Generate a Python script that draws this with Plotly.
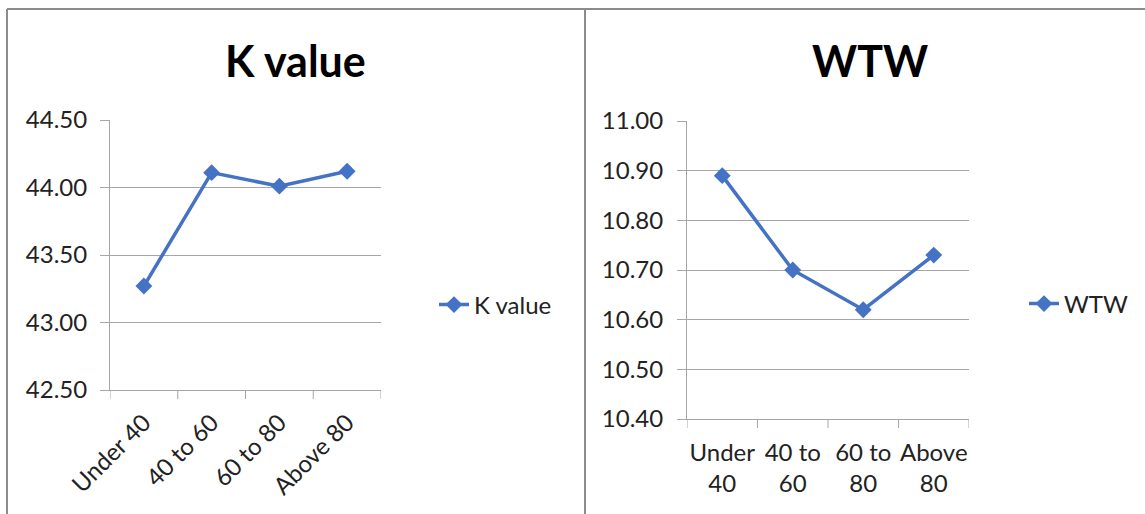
import plotly.graph_objects as go
from plotly.subplots import make_subplots

# Age groups and the two measured series
categories_k = ["Under 40", "40 to 60", "60 to 80", "Above 80"]
categories_wtw = ["Under<br>40", "40 to<br>60", "60 to<br>80", "Above<br>80"]
k_values = [43.27, 44.11, 44.01, 44.12]
wtw_values = [10.89, 10.70, 10.62, 10.73]

k_ticks = [42.5, 43.0, 43.5, 44.0, 44.5]
wtw_ticks = [10.4, 10.5, 10.6, 10.7, 10.8, 10.9, 11.0]

W, H = 1145, 514
FONT = "Lato"
BLUE = "#4472C4"
GRID = "#a6a6a6"


def px(x):
    return x / W


def py(y):
    return 1 - y / H


fig = make_subplots(rows=1, cols=2)

fig.add_trace(go.Scatter(
    x=list(range(4)), y=k_values, name="K value", mode="lines+markers",
    line=dict(color=BLUE, width=3.5),
    marker=dict(symbol="diamond", size=13, color=BLUE),
    legend="legend",
), row=1, col=1)

fig.add_trace(go.Scatter(
    x=list(range(4)), y=wtw_values, name="WTW", mode="lines+markers",
    line=dict(color=BLUE, width=3.5),
    marker=dict(symbol="diamond", size=13, color=BLUE),
    legend="legend2",
), row=1, col=2)

axis_common = dict(
    showline=True, linecolor=GRID, linewidth=1,
    tickfont=dict(family=FONT, size=24, color="#222222"),
    zeroline=False, automargin=False,
)

fig.update_xaxes(
    domain=[px(110), px(381)], range=[-0.5, 3.5],
    showgrid=False, tickmode="array", tickvals=list(range(4)),
    ticktext=categories_k, tickangle=-45, ticks="", ticklabelstandoff=8,
    **axis_common, row=1, col=1,
)
fig.update_yaxes(
    domain=[py(390), py(120)], range=[42.5, 44.5],
    tickvals=k_ticks, tickformat=".2f",
    ticks="outside", ticklen=9, tickcolor=GRID, ticklabelstandoff=8,
    showgrid=True, gridcolor=GRID, gridwidth=1,
    **axis_common, row=1, col=1,
)

fig.update_xaxes(
    domain=[px(687), px(969)], range=[-0.5, 3.5],
    showgrid=False, tickmode="array", tickvals=list(range(4)),
    ticktext=categories_wtw, tickangle=0, ticks="", ticklabelstandoff=12,
    **axis_common, row=1, col=2,
)
fig.update_yaxes(
    domain=[py(419), py(121)], range=[10.4, 11.0],
    tickvals=wtw_ticks, tickformat=".2f",
    ticks="outside", ticklen=9, tickcolor=GRID, ticklabelstandoff=9,
    showgrid=True, gridcolor=GRID, gridwidth=1,
    **axis_common, row=1, col=2,
)

# Category boundary tick marks along the x axes
for xref, yref, frac in [("x", "y", 9 / 270), ("x2", "y2", 9 / 298)]:
    for b in [-0.5, 0.5, 1.5, 2.5, 3.5]:
        fig.add_shape(type="line", xref=xref, yref=f"{yref} domain",
                      x0=b, x1=b, y0=0, y1=-frac,
                      line=dict(color=GRID, width=1))

# Chart frames
frame = dict(color="#8c8c8c", width=2)
fig.add_shape(type="line", xref="paper", yref="paper", x0=px(7), x1=1, y0=py(9), y1=py(9), line=frame)
fig.add_shape(type="line", xref="paper", yref="paper", x0=px(7), x1=px(7), y0=py(9), y1=0, line=frame)
fig.add_shape(type="line", xref="paper", yref="paper", x0=px(585), x1=px(585), y0=py(9), y1=0, line=frame)

# Titles
title_font = dict(family=FONT, size=43, color="#000000")
fig.add_annotation(text="<b>K value</b>", xref="paper", yref="paper",
                   x=px(295), y=py(60), xanchor="center", yanchor="middle",
                   showarrow=False, font=title_font)
fig.add_annotation(text="<b>WTW</b>", xref="paper", yref="paper",
                   x=px(870), y=py(60), xanchor="center", yanchor="middle",
                   showarrow=False, font=title_font)

legend_common = dict(
    font=dict(family=FONT, size=24, color="#222222"),
    bgcolor="rgba(0,0,0,0)", xanchor="left", yanchor="middle",
    itemwidth=30,
)

fig.update_layout(
    width=W, height=H,
    margin=dict(l=0, r=0, t=0, b=0, autoexpand=False),
    paper_bgcolor="white", plot_bgcolor="white",
    showlegend=True,
    legend=dict(x=px(434), y=py(305), **legend_common),
    legend2=dict(x=px(1024), y=py(304), **legend_common),
)

fig.write_html("out.html")
